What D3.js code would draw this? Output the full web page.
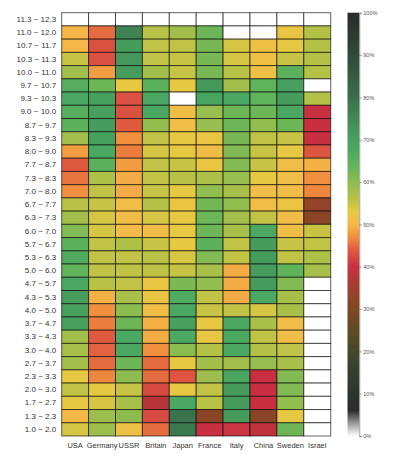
<!DOCTYPE html>
<html>
<head>
<meta charset="utf-8">
<script src="https://cdn.jsdelivr.net/npm/d3@7"></script>
<style>
  html, body { margin: 0; padding: 0; background: #fff; }
  svg { display: block; font-family: "Liberation Sans", Arial, sans-serif; }
</style>
</head>
<body>
<svg id="chart" width="400" height="474"></svg>
<script>
// ---- data ----
const rowLabels = ["11.3 ~ 12.3","11.0 ~ 12.0","10.7 ~ 11.7","10.3 ~ 11.3","10.0 ~ 11.0",
  "9.7 ~ 10.7","9.3 ~ 10.3","9.0 ~ 10.0","8.7 ~ 9.7","8.3 ~ 9.3","8.0 ~ 9.0",
  "7.7 ~ 8.7","7.3 ~ 8.3","7.0 ~ 8.0","6.7 ~ 7.7","6.3 ~ 7.3","6.0 ~ 7.0",
  "5.7 ~ 6.7","5.3 ~ 6.3","5.0 ~ 6.0","4.7 ~ 5.7","4.3 ~ 5.3","4.0 ~ 5.0",
  "3.7 ~ 4.7","3.3 ~ 4.3","3.0 ~ 4.0","2.7 ~ 3.7","2.3 ~ 3.3","2.0 ~ 3.0",
  "1.7 ~ 2.7","1.3 ~ 2.3","1.0 ~ 2.0"];
const countries = ["USA","Germany","USSR","Britain","Japan","France","Italy","China","Sweden","Israel"];

const usa     = [null,50,50,55,58,66,68,66,65,58,48,44,45.5,47,56,58,61,65,67,64,68,71,70,70,58,57.5,58,53,55.5,53,50,54];
const germany = [null,45,43,43,48,63,70,70,71,70,68,65,57,55.5,55,54,54,55.5,55.5,55.5,56,49.5,47,46,44,44.5,45,46.5,53,54,58.5,58.5];
const ussr    = [null,76,71,72,71,53,43,43,44,47,46,48,49,49,51,51,50.5,57,55.5,55.5,55.5,57.5,60,63,68,68,63,60,55,57.5,60,51.5];
const britain = [null,56,55.5,55.5,58,65,68,68,59.5,55.5,54,55.5,55.5,55,56.5,54,51,55,56,55.5,52.5,52,51,49.5,49,47,45,45,42.5,38,42.5,45];
const japan   = [null,58,55.5,55,55,53,null,51,51,53,53,55,56,53,52.5,53,53,53,54,55,61.5,67,68,70,68,60,53,43.5,53,68,79,78];
const france  = [null,63,62,62,62,72,69,59,59,52.5,51,52.5,57,59.5,62.5,63,63,65,61,57.5,59.5,55.5,55,53,52.5,56.5,58,58.5,55.5,56,32,40];
const italy   = [null,null,54,54,56,58,68,63,63,62,61,61,59,57.5,59.5,58,57.5,55.5,55.5,49,49,49,55.5,68,68,68,58,68.5,71,71,71,40.5];
const china   = [null,null,51.5,51.5,51.5,64.5,64.5,63,59.5,55.5,55,55,53,51,51,55.5,68,71,71,71,71,68,54,57.5,55.5,56.5,59,40,40,40,32,39];
const sweden  = [null,52.5,53,55,65,70,71,68,63,55,53,51,51,51,52.5,51,51,55,55.5,64.5,61,57.5,57.5,51,51,55.5,57.5,61,61,59.5,53,63];
const israel  = [null,56.5,56.5,56.5,56.5,null,56.5,40,40,40,43.5,49.5,47,46.5,33,32,55,55.5,57,57.5,
                 null,null,null,null,null,null,null,null,null,null,null,null];

const colorbarTicks = [0,10,20,30,40,50,60,70,80,90,100];

const series = [usa, germany, ussr, britain, japan, france, italy, china, sweden, israel];

// ---- color scale ----
const color = d3.scaleLinear()
  .domain([0, 3, 6, 10, 15, 20, 25, 30, 35, 40, 44, 47, 50, 53, 56, 60, 64, 68, 72, 80, 90, 100])
  .range(["#ffffff","#9a9a9a","#2b2b2b","#2d3430","#343f2e","#46482a","#5f4a24","#7f4822",
          "#a03f2e","#c83042","#e05a40","#f0903e","#f5b848","#e6c842","#b8c246","#8cbc50",
          "#62b45a","#4aa862","#45985b","#3a6e4a","#2f4a3a","#2a2a2a"])
  .interpolate(d3.interpolateRgb)
  .clamp(true);

// ---- layout ----
const svg = d3.select("#chart");
const gridL = 61.7, gridR = 330.7, gridT = 12.7, gridB = 436;

const x = d3.scaleBand().domain(countries).range([gridL, gridR]).padding(0);
const y = d3.scaleBand().domain(rowLabels).range([gridT, gridB]).padding(0);

const cells = [];
countries.forEach((c, ci) => {
  rowLabels.forEach((r, ri) => {
    cells.push({ country: c, row: r, value: series[ci][ri] });
  });
});

svg.append("g")
  .selectAll("rect")
  .data(cells)
  .join("rect")
  .attr("x", d => x(d.country))
  .attr("y", d => y(d.row))
  .attr("width", x.bandwidth())
  .attr("height", y.bandwidth())
  .attr("fill", d => d.value == null ? "#ffffff" : color(d.value))
  .attr("stroke", "#000")
  .attr("stroke-opacity", 0.62)
  .attr("stroke-width", 1);

// y axis
const yAxis = svg.append("g")
  .attr("transform", `translate(${gridL},0)`)
  .call(d3.axisLeft(y).tickSize(0).tickPadding(5.5));
yAxis.select(".domain").remove();
yAxis.selectAll("text").attr("font-size", 8).attr("fill", "#333")
  .attr("font-family", "Liberation Sans, Arial, sans-serif");

// x axis
const xAxis = svg.append("g")
  .attr("transform", `translate(0,${gridB})`)
  .call(d3.axisBottom(x).tickSize(0).tickPadding(7));
xAxis.select(".domain").remove();
xAxis.selectAll("text").attr("font-size", 7.5).attr("fill", "#333")
  .attr("font-family", "Liberation Sans, Arial, sans-serif");

// ---- colorbar ----
const cbX = 347.5, cbW = 11.8;
const cy = d3.scaleLinear().domain([0, 100]).range([gridB, gridT]);

const defs = svg.append("defs");
const grad = defs.append("linearGradient")
  .attr("id", "cbgrad")
  .attr("x1", 0).attr("y1", 1).attr("x2", 0).attr("y2", 0);
d3.range(0, 101, 1).forEach(v => {
  grad.append("stop").attr("offset", (v / 100)).attr("stop-color", color(v));
});

svg.append("rect")
  .attr("x", cbX).attr("y", cy(100))
  .attr("width", cbW).attr("height", cy(0) - cy(100))
  .attr("fill", "url(#cbgrad)");

const cbAxis = svg.append("g")
  .attr("transform", `translate(${cbX + cbW},0)`)
  .call(d3.axisRight(cy).tickValues(colorbarTicks).tickSize(2.5).tickPadding(1.5)
        .tickFormat(d => d + "%"));
cbAxis.select(".domain").attr("stroke", "#666").attr("stroke-width", 0.6);
cbAxis.selectAll(".tick line").attr("stroke", "#666").attr("stroke-width", 0.6);
cbAxis.selectAll("text").attr("font-size", 5.5).attr("fill", "#555")
  .attr("font-family", "Liberation Sans, Arial, sans-serif");
</script>
</body>
</html>
